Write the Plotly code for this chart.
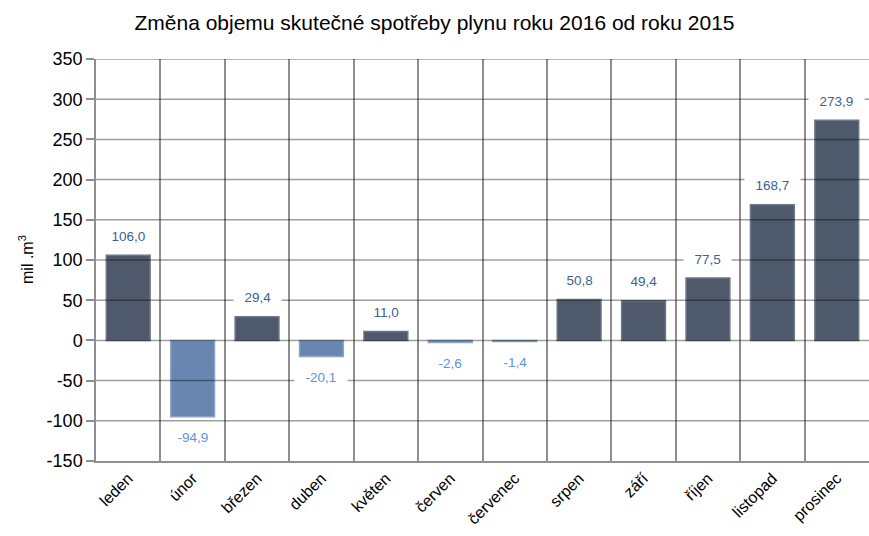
import plotly.graph_objects as go

months = ["leden", "únor", "březen", "duben", "květen", "červen", "červenec",
          "srpen", "září", "říjen", "listopad", "prosinec"]
values = [106.0, -94.9, 29.4, -20.1, 11.0, -2.6, -1.4, 50.8, 49.4, 77.5, 168.7, 273.9]
y_ticks = [-150, -100, -50, 0, 50, 100, 150, 200, 250, 300, 350]

POS_COLOR = "#4e5a6b"
NEG_COLOR = "#6787b1"
POS_TXT = "#3b5f95"
NEG_TXT = "#5b95d9"
FONT = "Liberation Sans, Arial, sans-serif"

colors = [POS_COLOR if v >= 0 else NEG_COLOR for v in values]
line_colors = ["#6b7788" if v >= 0 else "#8aa5c6" for v in values]

fig = go.Figure()
fig.add_trace(go.Bar(
    x=months, y=values, width=0.68,
    marker=dict(color=colors, line=dict(color=line_colors, width=1.5)),
    hoverinfo="x+y", showlegend=False,
))

annotations = []
for m, v in zip(months, values):
    annotations.append(dict(
        x=m, y=v, xref="x", yref="y",
        text="  " + f"{v:.1f}".replace(".", ",") + "  ",
        showarrow=False,
        yshift=19 if v >= 0 else -21,
        font=dict(family=FONT, size=13.5, color=POS_TXT if v >= 0 else NEG_TXT),
        bgcolor="white", borderpad=3,
        xanchor="center", yanchor="middle",
    ))

annotations.append(dict(
    x=0, y=0.5, xref="paper", yref="paper", textangle=-90, xshift=-70,
    xanchor="center", yanchor="middle",
    text="mil .m<sup>3</sup>", showarrow=False,
    font=dict(family=FONT, size=16, color="black"),
))

shapes = []
for t in y_ticks[1:]:
    shapes.append(dict(type="line", xref="paper", yref="y", x0=0, x1=1, y0=t, y1=t,
                       line=dict(color="rgba(0,0,0,0.38)", width=1.5), layer="above"))

fig.update_layout(
    width=869, height=536, autosize=False,
    margin=dict(l=96, r=0, t=59, b=75),
    paper_bgcolor="white", plot_bgcolor="white",
    title=dict(text="Změna objemu skutečné spotřeby plynu roku 2016 od roku 2015",
               x=0.5, xanchor="center", y=0.958, yanchor="middle",
               font=dict(family=FONT, size=21, color="black")),
    font=dict(family=FONT, color="black"),
    annotations=annotations,
    shapes=shapes,
)
fig.update_xaxes(
    type="category", tickson="boundaries", range=[-0.5, 11.5],
    showgrid=True, gridcolor="#8f8f8f", gridwidth=1.5,
    showline=True, linecolor="#8f8f8f", linewidth=1.5,
    ticks="", tickangle=-45, tickfont=dict(family=FONT, size=16, color="black"),
)
fig.update_yaxes(
    range=[-150, 350], tickvals=y_ticks, ticktext=[str(t) for t in y_ticks],
    showgrid=False, zeroline=False,
    showline=True, linecolor="#8f8f8f", linewidth=1.5,
    ticks="outside", ticklen=8, tickcolor="#8f8f8f", tickwidth=1.5,
    tickfont=dict(family=FONT, size=18, color="black"),
)

fig.write_html(
    "out.html",
    config={"responsive": False, "displayModeBar": False},
    post_script="document.body.style.margin='0px';document.body.style.padding='0px';",
)
